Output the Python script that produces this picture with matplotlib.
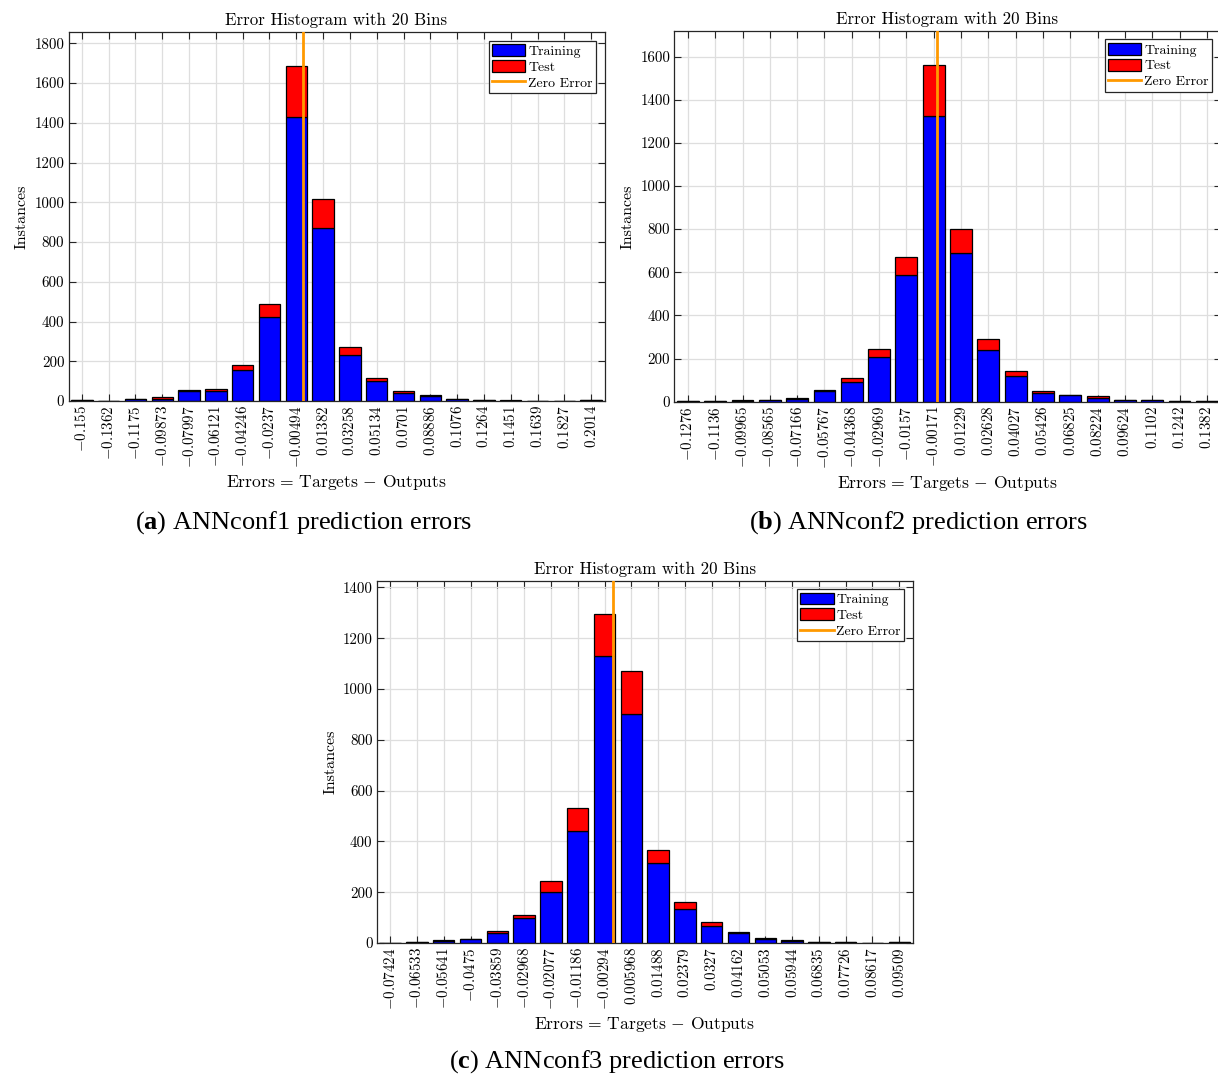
import numpy as np
import matplotlib
matplotlib.use("Agg")
import matplotlib.pyplot as plt
from matplotlib.patches import Patch
from matplotlib.lines import Line2D

plt.rcParams['font.family'] = 'serif'
plt.rcParams['font.serif'] = ['cmr10']
plt.rcParams['mathtext.fontset'] = 'cm'
plt.rcParams['mathtext.rm'] = 'Liberation Serif'
plt.rcParams['mathtext.bf'] = 'Liberation Serif:bold'
plt.rcParams['axes.unicode_minus'] = False

# ---------------- data ----------------
labels_a = ["-0.155", "-0.1362", "-0.1175", "-0.09873", "-0.07997", "-0.06121", "-0.04246",
            "-0.0237", "-0.00494", "0.01382", "0.03258", "0.05134", "0.0701", "0.08886",
            "0.1076", "0.1264", "0.1451", "0.1639", "0.1827", "0.2014"]
train_a = [3, 2, 8, 12, 48, 48, 155, 425, 1427, 872, 230, 102, 40, 27, 10, 6, 2, 2, 1, 3]
total_a = [3, 2, 10, 19, 57, 60, 182, 490, 1687, 1017, 273, 115, 52, 32, 12, 7, 3, 2, 2, 3]

labels_b = ["-0.1276", "-0.1136", "-0.09965", "-0.08565", "-0.07166", "-0.05767", "-0.04368",
            "-0.02969", "-0.0157", "-0.00171", "0.01229", "0.02628", "0.04027", "0.05426",
            "0.06825", "0.08224", "0.09624", "0.1102", "0.1242", "0.1382"]
train_b = [3, 1, 5, 9, 14, 48, 90, 205, 586, 1322, 690, 240, 118, 42, 30, 18, 7, 8, 3, 2]
total_b = [4, 1, 6, 10, 17, 55, 112, 243, 672, 1562, 802, 290, 142, 50, 33, 25, 8, 9, 3, 2]

labels_c = ["-0.07424", "-0.06533", "-0.05641", "-0.0475", "-0.03859", "-0.02968", "-0.02077",
            "-0.01186", "-0.00294", "0.005968", "0.01488", "0.02379", "0.0327", "0.04162",
            "0.05053", "0.05944", "0.06835", "0.07726", "0.08617", "0.09509"]
train_c = [1, 3, 8, 16, 38, 98, 201, 440, 1131, 900, 315, 132, 68, 38, 17, 6, 4, 3, 1, 2]
total_c = [1, 4, 12, 17, 48, 112, 243, 530, 1297, 1070, 365, 162, 83, 42, 19, 10, 5, 4, 1, 2]

yticks_a = [0, 200, 400, 600, 800, 1000, 1200, 1400, 1600, 1800]
yticks_b = [0, 200, 400, 600, 800, 1000, 1200, 1400, 1600]
yticks_c = [0, 200, 400, 600, 800, 1000, 1200, 1400]

captions = ["a", "b", "c"]
caption_rest = ["ANNconf1 prediction errors", "ANNconf2 prediction errors",
                "ANNconf3 prediction errors"]

# ---------------- figure ----------------
W, H = 1218, 1077
fig = plt.figure(figsize=(W / 100, H / 100), dpi=100)


def px_rect(l, r, t, b):
    return [l / W, 1 - b / H, (r - l) / W, (b - t) / H]


rects = [px_rect(68.5, 604.5, 32.3, 401.0),
         px_rect(674.3, 1220.5, 31.0, 401.7),
         px_rect(376.7, 912.7, 580.7, 943.0)]

spine_col = (0.15, 0.15, 0.15)
blue = (0, 0, 1)
red = (1, 0, 0)
orange = (1, 0.6, 0)


def draw(ax, labels, train, total, yticks):
    c = np.array([float(s) for s in labels])
    step = np.median(np.diff(c))
    train = np.array(train)
    total = np.array(total)
    test = total - train
    ax.set_axisbelow(True)
    ax.bar(c, train, width=0.8 * step, color=blue, edgecolor='black', linewidth=0.9, zorder=2)
    ax.bar(c, test, bottom=train, width=0.8 * step, color=red, edgecolor='black',
           linewidth=0.9, zorder=2)
    ymax = 1.1 * total.max()
    ax.plot([0, 0], [0, ymax], color=orange, linewidth=2, zorder=3)
    ax.set_xlim(c[0] - step / 2, c[-1] + step / 2)
    ax.set_ylim(0, ymax)
    ax.set_xticks(c)
    ax.set_xticklabels(["$" + s + "$" for s in labels], rotation=90, fontsize=10.8)
    ax.set_yticks(yticks)
    ax.set_yticklabels([str(v) for v in yticks], fontsize=10.8)
    ax.grid(True, color=(0.87, 0.87, 0.87), linewidth=0.9, zorder=0)
    ax.tick_params(direction='in', length=5, width=0.8, color=spine_col,
                   top=True, right=True, pad=3)
    for s in ax.spines.values():
        s.set_color(spine_col)
        s.set_linewidth(0.9)
    ax.set_title("Error Histogram with 20 Bins", fontsize=12.2, pad=5)
    ax.set_xlabel(r"$\mathrm{Errors}\,=\,\mathrm{Targets}\,-\,\mathrm{Outputs}$", fontsize=12.6,
                  labelpad=4)
    ax.set_ylabel("Instances", fontsize=11.5, labelpad=4)
    handles = [Patch(facecolor=blue, edgecolor='black', linewidth=0.9),
               Patch(facecolor=red, edgecolor='black', linewidth=0.9),
               Line2D([0], [0], color=orange, linewidth=2)]
    leg = ax.legend(handles, ["Training", "Test", "Zero Error"], loc='upper right',
                    fontsize=10, frameon=True, fancybox=False, edgecolor=spine_col,
                    framealpha=1, borderpad=0.25, labelspacing=0.15, handlelength=2.4,
                    handleheight=0.95, handletextpad=0.2, borderaxespad=0.6)
    leg.get_frame().set_linewidth(0.9)


data = [(labels_a, train_a, total_a, yticks_a),
        (labels_b, train_b, total_b, yticks_b),
        (labels_c, train_c, total_c, yticks_c)]

for rect, d in zip(rects, data):
    ax = fig.add_axes(rect)
    draw(ax, *d)

cap_pos = [(304, 523), (918, 523), (617, 1062)]
for (x, y), letter, rest in zip(cap_pos, captions, caption_rest):
    fig.text(x / W, 1 - y / H, r"($\mathbf{" + letter + r"}$) " + rest,
             ha='center', va='center', fontsize=19, family='Liberation Serif',
             math_fontfamily='custom')

fig.savefig("out.png", dpi=100)
